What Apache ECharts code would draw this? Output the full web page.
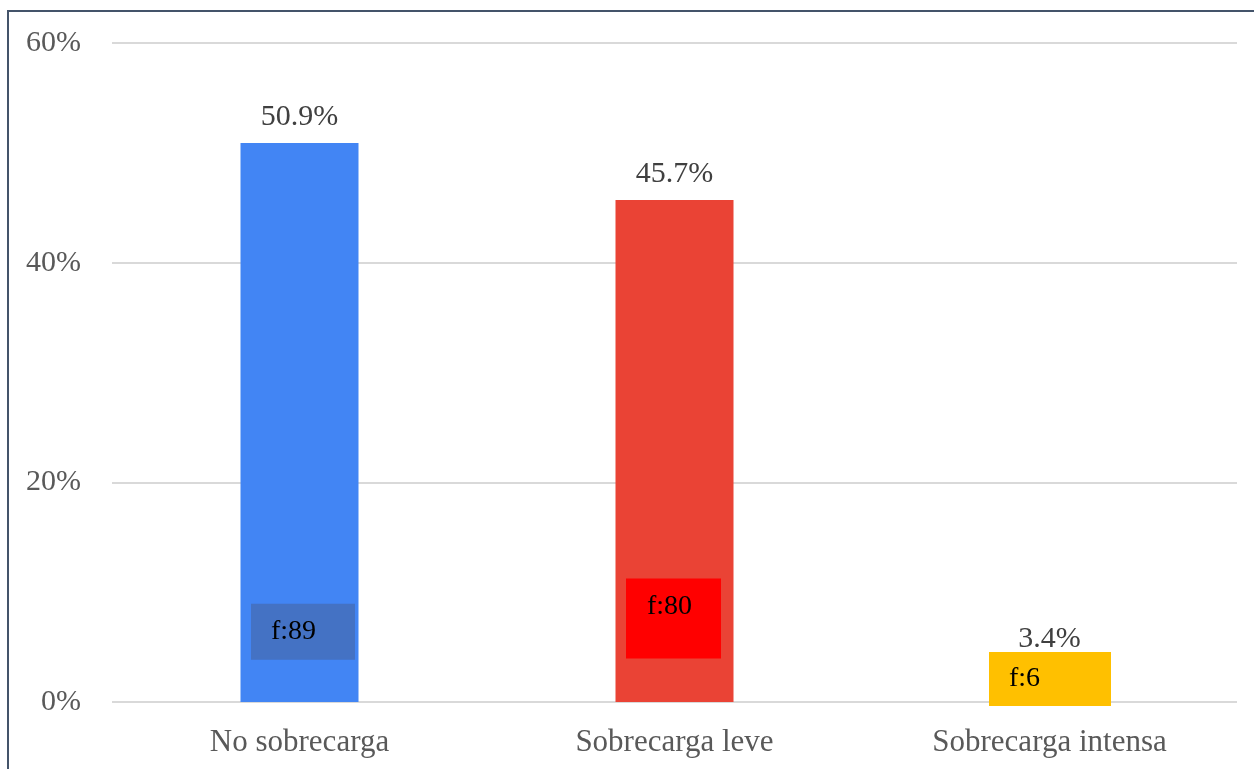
<!DOCTYPE html>
<html>
<head>
<meta charset="utf-8">
<script src="https://cdn.jsdelivr.net/npm/echarts@6/dist/echarts.min.js"></script>
<style>
html,body{margin:0;padding:0;background:#fff;}
#chart{width:1254px;height:769px;}
</style>
</head>
<body>
<div id="chart"></div>
<script>
const categories = ['No sobrecarga', 'Sobrecarga leve', 'Sobrecarga intensa'];
const percentValues = [50.9, 45.7, 3.4];
const barColors = ['#4285F4', '#EA4335', '#FFC000'];
const freqLabels = ['f:89', 'f:80', 'f:6'];
const freqBoxLevels = [6.4, 7.6, 2.1];
const freqBoxColors = ['#4472C4', '#FF0000', '#FFC000'];
const yTicks = [0, 20, 40, 60];

const serif = '"Liberation Serif", "Times New Roman", serif';

// box geometry: [content width, top line height, extra bottom space, left pad, x offset]
const boxStyles = [
  {w: 84, lh: 56, extra: 0, pad: 20, dx: -48.5},
  {w: 74, lh: 56, extra: 24, pad: 21, dx: -48.5},
  {w: 102, lh: 54, extra: 0, pad: 20, dx: -60.5}
];

const chart = echarts.init(document.getElementById('chart'));
chart.setOption({
  animation: false,
  backgroundColor: '#fff',
  grid: {left: 112, right: 17, top: 43, bottom: 67, containLabel: false},
  graphic: [{
    type: 'rect',
    shape: {x: 8, y: 11, width: 1300, height: 800},
    style: {fill: 'none', stroke: '#44546A', lineWidth: 2},
    silent: true, z: -1
  }],
  xAxis: {
    type: 'category',
    data: categories,
    axisLine: {show: false},
    axisTick: {show: false},
    axisLabel: {color: '#595959', fontFamily: serif, fontSize: 31, margin: 25}
  },
  yAxis: {
    type: 'value',
    min: yTicks[0], max: yTicks[yTicks.length - 1], interval: 20,
    axisLine: {show: false},
    axisTick: {show: false},
    splitLine: {lineStyle: {color: '#D9D9D9', width: 2}},
    axisLabel: {color: '#595959', fontFamily: serif, fontSize: 30, margin: 31, formatter: '{value}%'}
  },
  series: [
    {
      type: 'bar',
      barWidth: 118,
      data: percentValues.map((v, i) => ({value: v, itemStyle: {color: barColors[i]}})),
      label: {
        show: true, position: 'top', distance: 11,
        color: '#404040', fontFamily: serif, fontSize: 30,
        formatter: p => p.value.toFixed(1) + '%'
      },
      z: 2
    },
    {
      type: 'scatter',
      symbolSize: 0,
      z: 5,
      itemStyle: {opacity: 1},
      data: freqBoxLevels.map((v, i) => {
        const b = boxStyles[i];
        return {
          value: [i, v],
          itemStyle: {opacity: 1},
          label: {
            show: true, position: 'inside', opacity: 1,
            formatter: b.extra ? '{a|' + freqLabels[i] + '}\n{b| }' : '{a|' + freqLabels[i] + '}',
            backgroundColor: freqBoxColors[i],
            width: b.w,
            padding: [0, 0, 0, b.pad],
            offset: [b.dx, 0],
            align: 'left', verticalAlign: 'middle',
            rich: {
              a: {color: '#000', fontFamily: serif, fontSize: 28, lineHeight: b.lh, height: b.lh},
              b: {fontSize: 10, lineHeight: b.extra || 1, height: b.extra || 1}
            }
          }
        };
      })
    }
  ]
});
</script>
</body>
</html>
